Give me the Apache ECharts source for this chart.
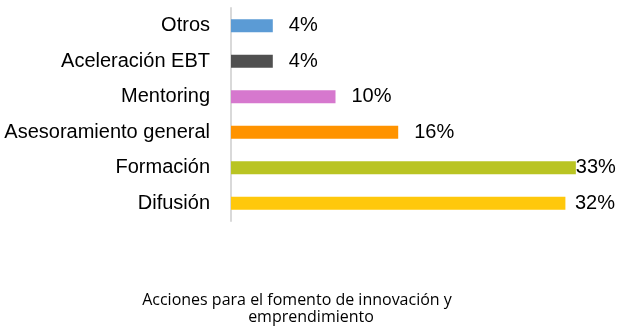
<!DOCTYPE html>
<html>
<head>
<meta charset="utf-8">
<script src="https://cdn.jsdelivr.net/npm/echarts@6/dist/echarts.min.js"></script>
<style>
  html, body { margin: 0; padding: 0; background: #fff; }
  #chart { width: 620px; height: 326px; }
</style>
</head>
<body>
<div id="chart"></div>
<script>
// Share of support actions, top to bottom
const categories = ['Otros', 'Aceleración EBT', 'Mentoring', 'Asesoramiento general', 'Formación', 'Difusión'];
const shares = [4, 4, 10, 16, 33, 32];
const barColors = ['#5B9BD5', '#505050', '#D678CE', '#FF9300', '#B9C423', '#FFC80C'];
const titleLines = ['Acciones para el fomento de innovación y', 'emprendimiento'];

const labelFont = '"Liberation Sans", Arial, sans-serif';
const LABEL_SIZE = 20;
const LABEL_GAP = 16;      // space between bar end and its value
const LABEL_LIMIT = 615;   // value labels never run past this x

const chart = echarts.init(document.getElementById('chart'), null, { renderer: 'canvas' });

function buildData(distances) {
  return shares.map((v, i) => ({
    value: v,
    itemStyle: { color: barColors[i] },
    label: { distance: distances ? distances[i] : LABEL_GAP }
  }));
}

const titleStyle = { fontFamily: '"Open Sans", sans-serif', fontSize: 16, fontWeight: 'normal', color: '#000' };

const option = {
  animation: false,
  backgroundColor: '#ffffff',
  title: [
    { text: titleLines[0], left: 292, top: 287, textAlign: 'center', textStyle: titleStyle },
    { text: titleLines[1], left: 306, top: 304, textAlign: 'center', textStyle: titleStyle }
  ],
  grid: { left: 231, top: 8, height: 213, width: 365.75, outerBoundsMode: 'none', containLabel: false },
  xAxis: {
    type: 'value', min: 0, max: 35,
    show: false
  },
  yAxis: {
    type: 'category',
    data: categories,
    inverse: true,
    axisLine: { show: true, lineStyle: { color: '#D9D9D9', width: 2 } },
    axisTick: { show: false },
    axisLabel: { fontFamily: labelFont, fontSize: LABEL_SIZE, color: '#000', margin: 21 }
  },
  series: [{
    type: 'bar',
    barWidth: 13,
    data: buildData(null),
    label: {
      show: true,
      position: 'right',
      formatter: '{c}%',
      fontFamily: labelFont,
      fontSize: LABEL_SIZE,
      color: '#000'
    }
  }]
};

chart.setOption(option);

// Pull labels back in where they would spill past the right edge
const ctx = document.createElement('canvas').getContext('2d');
ctx.font = LABEL_SIZE + 'px ' + labelFont;
const distances = shares.map(v => {
  const end = chart.convertToPixel({ xAxisIndex: 0 }, v);
  const w = ctx.measureText(v + '%').width;
  return Math.max(0, Math.min(LABEL_GAP, LABEL_LIMIT - w - end));
});
chart.setOption({ series: [{ data: buildData(distances) }] });
</script>
</body>
</html>
